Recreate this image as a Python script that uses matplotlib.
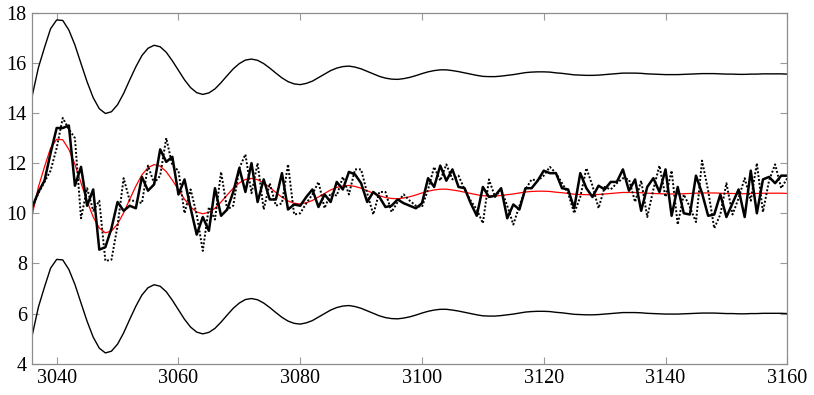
import numpy as np
import matplotlib
matplotlib.use("Agg")
import matplotlib.pyplot as plt

plt.rcParams['font.family'] = ['Liberation Serif', 'DejaVu Serif']

# time index, one point per step
start_year, end_year = 3036, 3160
steps = np.arange(start_year, end_year + 1)

# smooth mean path (red)
mean_path = [
    9.95, 11.05, 11.85, 12.6, 12.95, 12.93, 12.55, 11.95, 11.21, 10.48,
    9.85, 9.41, 9.22, 9.29, 9.57, 10.02, 10.56, 11.08, 11.53, 11.82,
    11.94, 11.88, 11.66, 11.32, 10.94, 10.56, 10.25, 10.05, 9.98, 10.04,
    10.20, 10.45, 10.73, 11.00, 11.21, 11.35, 11.39, 11.34, 11.21, 11.03,
    10.83, 10.64, 10.49, 10.40, 10.37, 10.42, 10.51, 10.65, 10.79, 10.93,
    11.03, 11.09, 11.11, 11.07, 11.00, 10.90, 10.80, 10.70, 10.63, 10.59,
    10.58, 10.61, 10.66, 10.73, 10.81, 10.88, 10.93, 10.96, 10.96, 10.93,
    10.89, 10.84, 10.79, 10.74, 10.70, 10.69, 10.69, 10.71, 10.74, 10.77,
    10.81, 10.85, 10.87, 10.88, 10.88, 10.87, 10.84, 10.82, 10.79, 10.76,
    10.75, 10.74, 10.74, 10.75, 10.77, 10.79, 10.81, 10.83, 10.83, 10.83,
    10.82, 10.80, 10.79, 10.78, 10.77, 10.77, 10.77, 10.78, 10.79, 10.80,
    10.81, 10.81, 10.81, 10.80, 10.79, 10.79, 10.78, 10.78, 10.79, 10.79,
    10.80, 10.80, 10.80, 10.80, 10.79,
]

# upper band
upper_band = [
    14.70, 15.81, 16.61, 17.36, 17.71, 17.69, 17.31, 16.71, 15.97, 15.24,
    14.61, 14.17, 13.98, 14.05, 14.33, 14.78, 15.32, 15.84, 16.29, 16.58,
    16.70, 16.64, 16.42, 16.08, 15.70, 15.32, 15.01, 14.81, 14.74, 14.80,
    14.96, 15.21, 15.49, 15.76, 15.97, 16.11, 16.15, 16.10, 15.97, 15.79,
    15.59, 15.40, 15.25, 15.16, 15.13, 15.18, 15.27, 15.41, 15.55, 15.69,
    15.79, 15.85, 15.87, 15.83, 15.76, 15.66, 15.56, 15.46, 15.39, 15.35,
    15.34, 15.37, 15.42, 15.49, 15.57, 15.64, 15.69, 15.72, 15.72, 15.69,
    15.65, 15.60, 15.55, 15.50, 15.46, 15.45, 15.45, 15.47, 15.50, 15.53,
    15.57, 15.61, 15.63, 15.64, 15.64, 15.63, 15.60, 15.58, 15.55, 15.52,
    15.51, 15.50, 15.50, 15.51, 15.53, 15.55, 15.57, 15.59, 15.59, 15.59,
    15.58, 15.56, 15.55, 15.54, 15.53, 15.53, 15.53, 15.54, 15.55, 15.56,
    15.57, 15.57, 15.57, 15.56, 15.55, 15.55, 15.54, 15.54, 15.55, 15.55,
    15.56, 15.56, 15.56, 15.56, 15.55,
]

# lower band
lower_band = [
    5.15, 6.26, 7.06, 7.81, 8.16, 8.14, 7.76, 7.16, 6.42, 5.69,
    5.06, 4.62, 4.43, 4.50, 4.78, 5.23, 5.77, 6.29, 6.74, 7.03,
    7.15, 7.09, 6.87, 6.53, 6.15, 5.77, 5.46, 5.26, 5.19, 5.25,
    5.41, 5.66, 5.94, 6.21, 6.42, 6.56, 6.60, 6.55, 6.42, 6.24,
    6.04, 5.85, 5.70, 5.61, 5.58, 5.63, 5.72, 5.86, 6.00, 6.14,
    6.24, 6.30, 6.32, 6.28, 6.21, 6.11, 6.01, 5.91, 5.84, 5.80,
    5.79, 5.82, 5.87, 5.94, 6.02, 6.09, 6.14, 6.17, 6.17, 6.14,
    6.10, 6.05, 6.00, 5.95, 5.91, 5.90, 5.90, 5.92, 5.95, 5.98,
    6.02, 6.06, 6.08, 6.09, 6.09, 6.08, 6.05, 6.03, 6.00, 5.97,
    5.96, 5.95, 5.95, 5.96, 5.98, 6.00, 6.02, 6.04, 6.04, 6.04,
    6.03, 6.01, 6.00, 5.99, 5.98, 5.98, 5.98, 5.99, 6.00, 6.01,
    6.02, 6.02, 6.02, 6.01, 6.00, 6.00, 5.99, 5.99, 6.00, 6.00,
    6.01, 6.01, 6.01, 6.01, 6.00,
]

# observed series (thick solid)
observed = [
    10.25, 10.85, 11.3, 12.4, 13.4, 13.4, 13.5, 11.1, 11.85, 10.3,
    10.95, 8.55, 8.65, 9.4, 10.45, 10.1, 10.3, 10.2, 11.45, 10.9,
    11.15, 12.55, 12.05, 12.25, 10.75, 11.35, 10.2, 9.15, 9.85, 9.3,
    11.0, 9.9, 10.15, 10.85, 11.8, 10.85, 12.0, 10.45, 11.35, 10.55,
    10.55, 11.6, 10.15, 10.35, 10.3, 10.65, 10.95, 10.25, 10.75, 10.45,
    11.25, 10.95, 11.65, 11.55, 11.2, 10.45, 10.85, 10.65, 10.25, 10.3,
    10.55, 10.4, 10.3, 10.2, 10.4, 11.4, 11.05, 11.9, 11.3, 11.75,
    11.05, 11.0, 10.4, 9.9, 11.05, 10.65, 10.7, 11.0, 9.8, 10.35,
    10.15, 11.0, 11.0, 11.3, 11.7, 11.6, 11.6, 11.0, 10.95, 10.2,
    11.6, 11.0, 10.65, 11.1, 10.95, 11.25, 11.25, 11.75, 10.9, 11.35,
    10.1, 11.05, 11.4, 10.85, 11.75, 9.9, 11.05, 10.0, 9.95, 11.5,
    10.8, 9.9, 9.95, 10.75, 9.85, 10.4, 10.95, 9.85, 11.7, 10.0,
    11.35, 11.45, 11.2, 11.5, 11.5,
]

# simulated series (dotted)
simulated = [
    10.25, 10.8, 11.25, 11.7, 12.6, 13.8, 13.35, 13.0, 9.8, 11.0,
    10.1, 10.5, 8.1, 8.15, 9.5, 11.4, 10.5, 10.5, 10.4, 11.9,
    11.2, 11.5, 13.0, 11.9, 11.7, 10.0, 10.95, 9.95, 8.5, 10.25,
    9.75, 11.65, 10.15, 10.3, 11.8, 12.35, 10.8, 12.0, 10.15, 11.2,
    10.3, 10.4, 11.95, 9.95, 10.0, 10.4, 10.75, 11.25, 10.2, 10.8,
    10.7, 11.45, 10.75, 11.75, 11.75, 10.8, 9.95, 10.85, 10.85, 10.05,
    10.45, 10.75, 10.5, 10.3, 10.25, 10.95, 11.85, 11.3, 11.95, 11.35,
    11.5, 10.95, 10.5, 10.15, 9.6, 11.35, 10.65, 10.95, 10.3, 9.55,
    10.3, 10.95, 11.35, 11.3, 11.5, 11.85, 11.6, 11.2, 10.8, 10.0,
    10.65, 11.8, 11.1, 10.2, 11.05, 10.95, 11.2, 11.4, 11.35, 10.45,
    11.3, 9.85, 10.95, 11.9, 10.65, 11.7, 9.55, 10.75, 10.25, 9.65,
    12.1, 10.9, 9.4, 9.95, 11.2, 9.95, 10.6, 11.4, 10.5, 12.0,
    10.05, 11.3, 11.95, 11.0, 11.4,
]

x_ticks = [3040, 3060, 3080, 3100, 3120, 3140, 3160]
y_ticks = [4, 6, 8, 10, 12, 14, 16, 18]

fig = plt.figure(figsize=(8.14, 3.95), dpi=100)
ax = fig.add_axes([0.0397, 0.0792, 0.9275, 0.8887])

ax.plot(steps, upper_band, color='black', lw=1.0)
ax.plot(steps, lower_band, color='black', lw=1.0)
ax.plot(steps, mean_path, color='red', lw=0.9)
ax.plot(steps, simulated, color='black', lw=1.4, linestyle=(0, (1, 1)))
ax.plot(steps, observed, color='black', lw=1.8)

ax.set_xlim(start_year, end_year)
ax.set_ylim(4, 18)
ax.set_xticks(x_ticks)
ax.set_yticks(y_ticks)

for side in ['left', 'right', 'top', 'bottom']:
    ax.spines[side].set_color('0.55')
    ax.spines[side].set_linewidth(0.9)
ax.tick_params(direction='in', length=5, width=0.8, color='0.6',
               top=True, right=True, labelsize=14.5, pad=4)

plt.savefig("out.png", dpi=100)
